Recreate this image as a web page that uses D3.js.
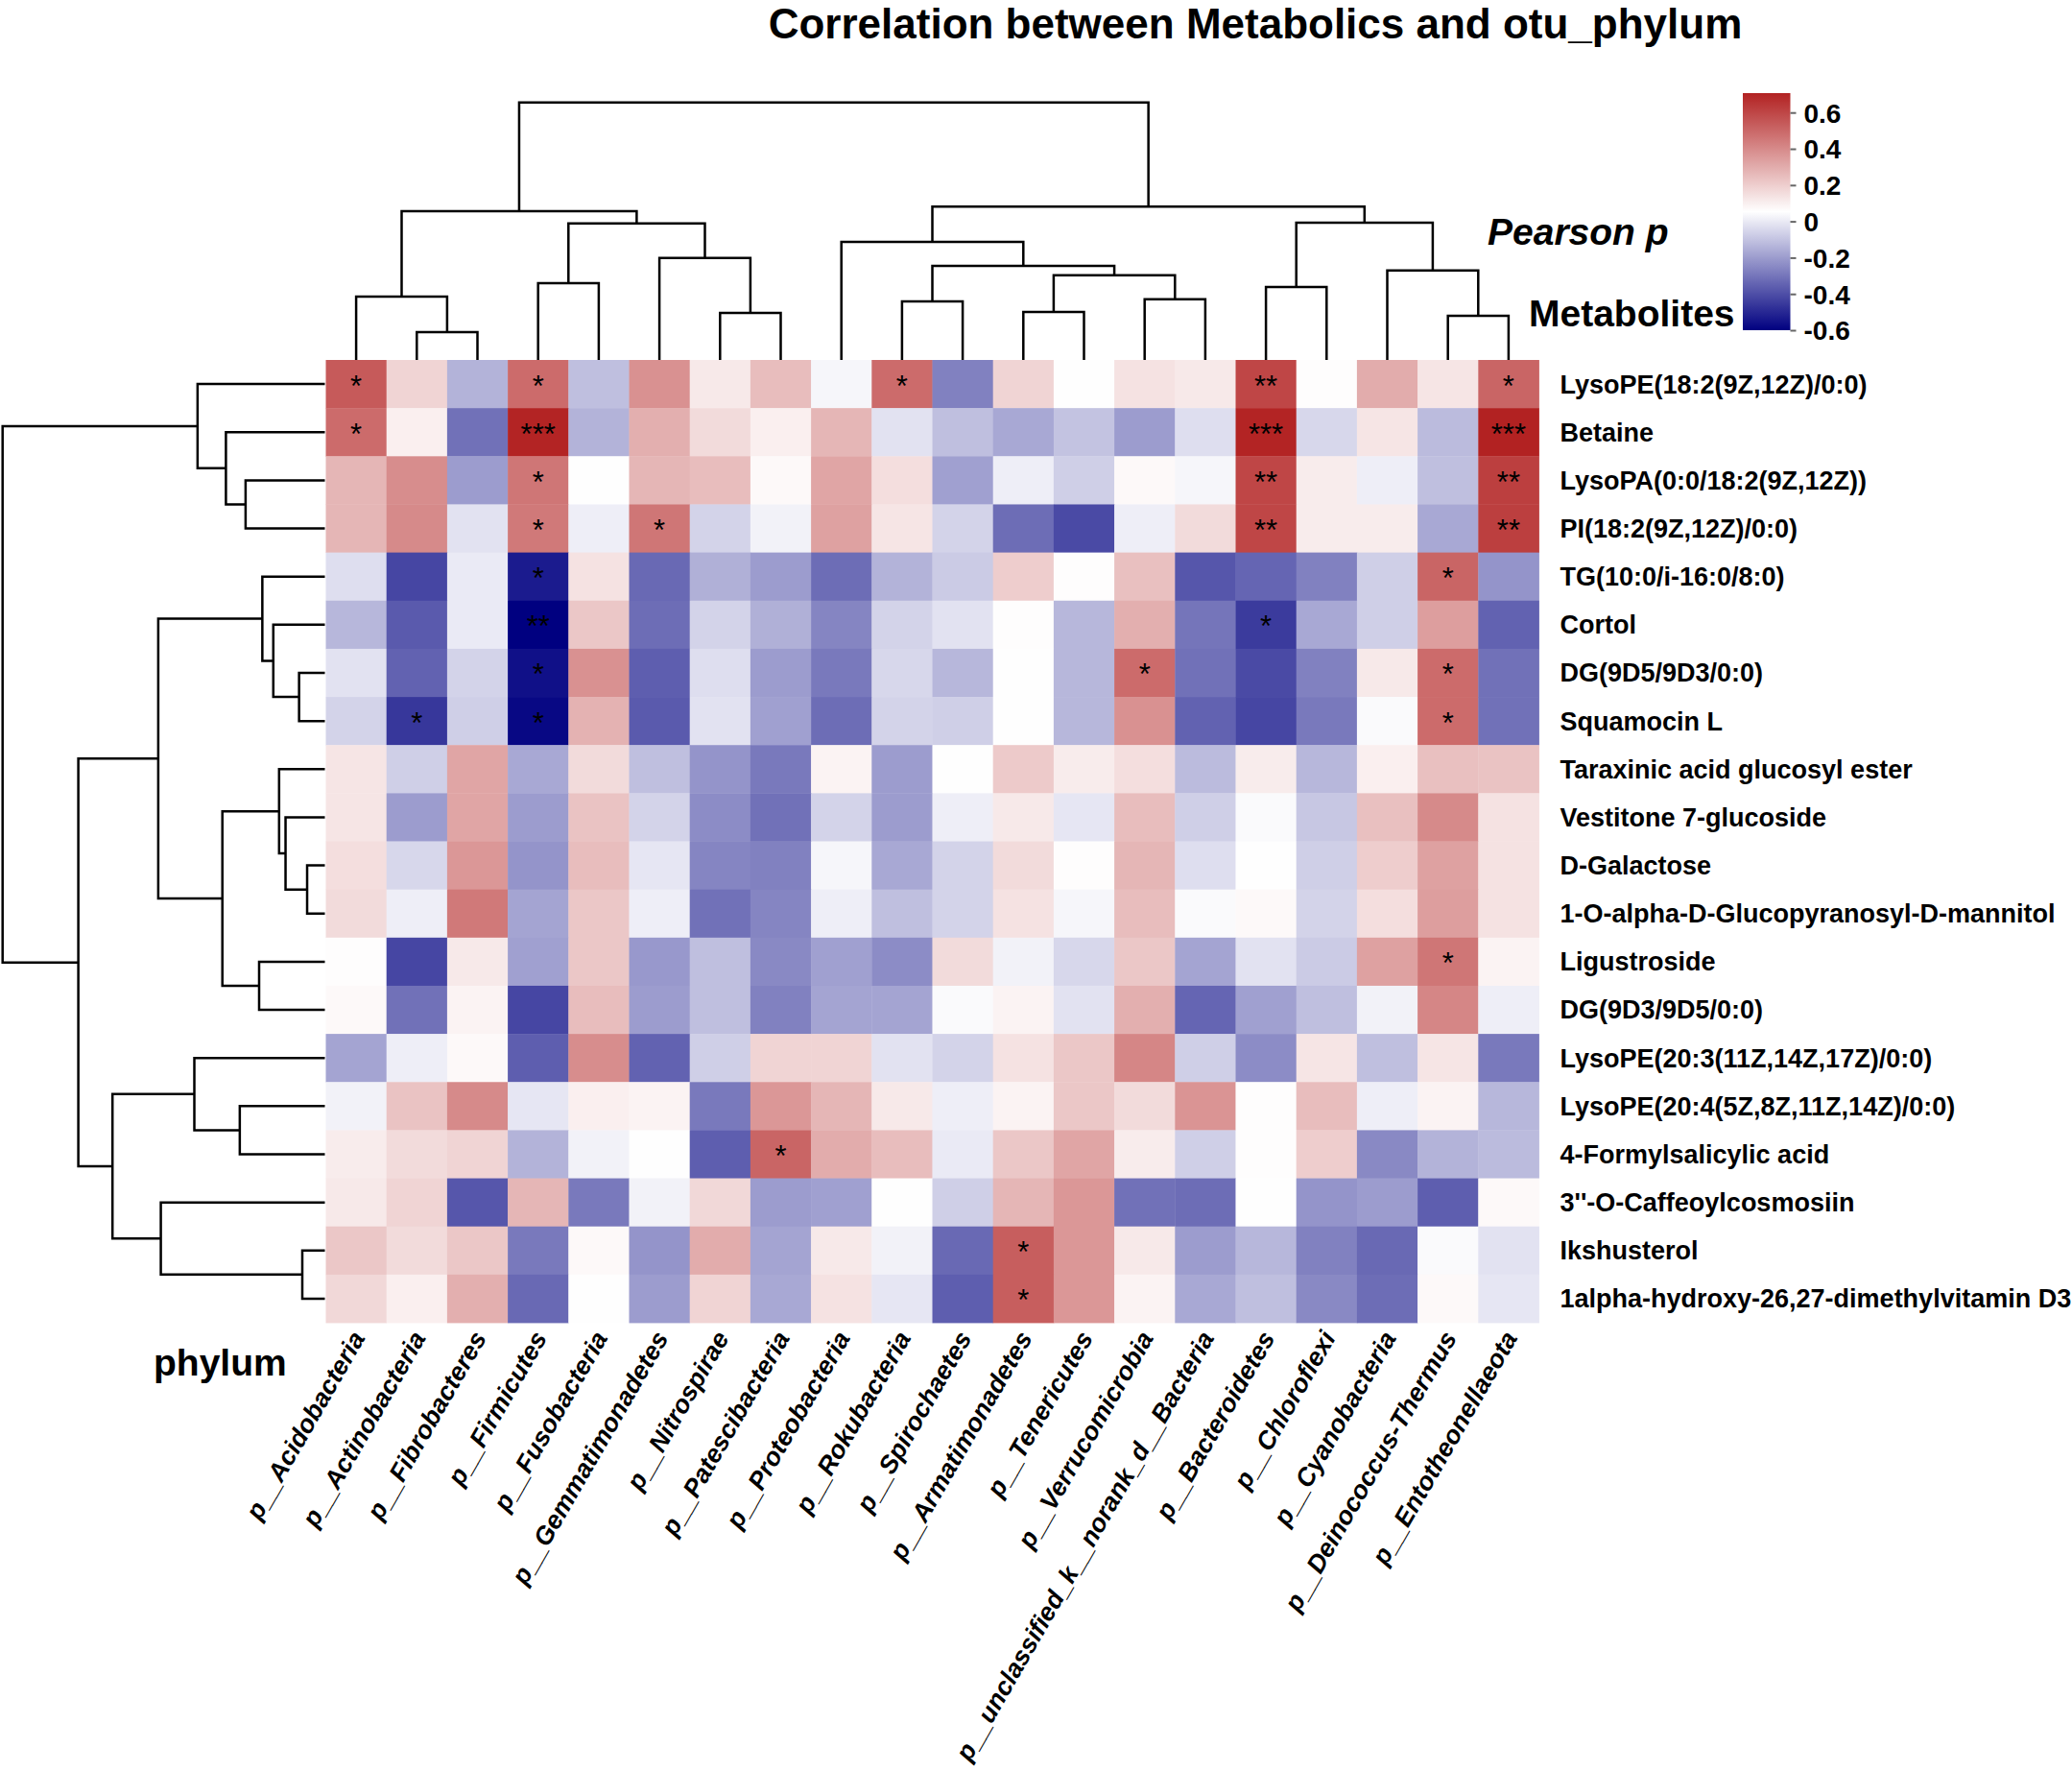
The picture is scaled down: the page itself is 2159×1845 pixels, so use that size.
<!DOCTYPE html>
<html>
<head>
<meta charset="utf-8">
<script src="https://cdn.jsdelivr.net/npm/d3@7"></script>
<style>
  html, body { margin: 0; padding: 0; background: #ffffff; }
  svg { display: block; font-family: "Liberation Sans", Arial, sans-serif; }
</style>
</head>
<body>
<svg id="chart" width="2159" height="1845"></svg>
<script>
// ---------------- DATA ----------------
const colLabels = ["p__Acidobacteria","p__Actinobacteria","p__Fibrobacteres","p__Firmicutes","p__Fusobacteria",
  "p__Gemmatimonadetes","p__Nitrospirae","p__Patescibacteria","p__Proteobacteria","p__Rokubacteria",
  "p__Spirochaetes","p__Armatimonadetes","p__Tenericutes","p__Verrucomicrobia","p__unclassified_k__norank_d__Bacteria",
  "p__Bacteroidetes","p__Chloroflexi","p__Cyanobacteria","p__Deinococcus-Thermus","p__Entotheonellaeota"];

const rowLabels = ["LysoPE(18:2(9Z,12Z)/0:0)","Betaine","LysoPA(0:0/18:2(9Z,12Z))","PI(18:2(9Z,12Z)/0:0)",
  "TG(10:0/i-16:0/8:0)","Cortol","DG(9D5/9D3/0:0)","Squamocin L","Taraxinic acid glucosyl ester",
  "Vestitone 7-glucoside","D-Galactose","1-O-alpha-D-Glucopyranosyl-D-mannitol","Ligustroside",
  "DG(9D3/9D5/0:0)","LysoPE(20:3(11Z,14Z,17Z)/0:0)","LysoPE(20:4(5Z,8Z,11Z,14Z)/0:0)",
  "4-Formylsalicylic acid","3''-O-Caffeoylcosmosiin","Ikshusterol","1alpha-hydroxy-26,27-dimethylvitamin D3"];

// Pearson r, rows x columns (display order)
const corrValues = [
  [0.54, 0.18,-0.14, 0.49,-0.11, 0.38, 0.12, 0.25, 0.03, 0.49,-0.27, 0.18, 0.05, 0.14, 0.12, 0.60, 0.06, 0.30, 0.13, 0.51],
  [0.49, 0.10,-0.31, 0.70,-0.14, 0.29, 0.16, 0.10, 0.27,-0.02,-0.11,-0.17,-0.10,-0.20,-0.03, 0.70,-0.05, 0.13,-0.12, 0.71],
  [0.27, 0.39,-0.20, 0.46, 0.05, 0.27, 0.25, 0.07, 0.32, 0.15,-0.19, 0.01,-0.07, 0.07, 0.03, 0.60, 0.11, 0.01,-0.11, 0.62],
  [0.27, 0.40,-0.02, 0.45, 0.01, 0.46,-0.06, 0.02, 0.33, 0.13,-0.06,-0.32,-0.41, 0.01, 0.16, 0.60, 0.11, 0.11,-0.17, 0.62],
  [-0.03,-0.42, 0.00,-0.53, 0.14,-0.33,-0.15,-0.20,-0.32,-0.14,-0.08, 0.20, 0.06, 0.24,-0.38,-0.34,-0.27,-0.07, 0.51,-0.22],
  [-0.13,-0.37, 0.00,-0.60, 0.22,-0.32,-0.06,-0.15,-0.26,-0.06,-0.02, 0.06,-0.13, 0.29,-0.30,-0.45,-0.17,-0.07, 0.34,-0.35],
  [-0.02,-0.35,-0.06,-0.56, 0.38,-0.36,-0.03,-0.20,-0.29,-0.05,-0.13, 0.05,-0.13, 0.49,-0.31,-0.41,-0.27, 0.12, 0.49,-0.31],
  [-0.06,-0.46,-0.07,-0.58, 0.28,-0.37,-0.02,-0.19,-0.32,-0.06,-0.07, 0.05,-0.13, 0.38,-0.35,-0.42,-0.29, 0.04, 0.49,-0.31],
  [0.13,-0.07, 0.32,-0.17, 0.16,-0.11,-0.22,-0.29, 0.09,-0.20, 0.05, 0.21, 0.11, 0.15,-0.12, 0.11,-0.13, 0.10, 0.24, 0.23],
  [0.13,-0.20, 0.32,-0.20, 0.23,-0.06,-0.24,-0.31,-0.06,-0.20, 0.01, 0.12,-0.01, 0.25,-0.07, 0.04,-0.09, 0.24, 0.40, 0.14],
  [0.15,-0.05, 0.36,-0.22, 0.25,-0.01,-0.26,-0.27, 0.03,-0.17,-0.06, 0.16, 0.06, 0.27,-0.03, 0.05,-0.07, 0.20, 0.33, 0.14],
  [0.16, 0.01, 0.45,-0.18, 0.22, 0.01,-0.31,-0.26, 0.01,-0.11,-0.06, 0.14, 0.03, 0.25, 0.04, 0.07,-0.06, 0.15, 0.34, 0.14],
  [0.06,-0.42, 0.12,-0.19, 0.22,-0.21,-0.11,-0.25,-0.19,-0.24, 0.16, 0.02,-0.05, 0.22,-0.18,-0.02,-0.08, 0.33, 0.46, 0.09],
  [0.07,-0.31, 0.09,-0.42, 0.25,-0.20,-0.11,-0.27,-0.18,-0.18, 0.04, 0.09,-0.02, 0.29,-0.34,-0.19,-0.11, 0.02, 0.41, 0.01],
  [-0.18, 0.01, 0.07,-0.36, 0.39,-0.35,-0.07, 0.18, 0.18,-0.02,-0.06, 0.14, 0.22, 0.41,-0.07,-0.24, 0.13,-0.11, 0.13,-0.29],
  [0.02, 0.23, 0.40,-0.01, 0.10, 0.09,-0.29, 0.36, 0.27, 0.12, 0.01, 0.09, 0.22, 0.16, 0.37, 0.06, 0.25, 0.01, 0.09,-0.13],
  [0.11, 0.16, 0.18,-0.14, 0.02, 0.05,-0.36, 0.51, 0.30, 0.25, 0.00, 0.22, 0.32, 0.11,-0.07, 0.06, 0.20,-0.25,-0.14,-0.12],
  [0.12, 0.18,-0.38, 0.27,-0.29, 0.02, 0.17,-0.20,-0.19, 0.05,-0.07, 0.27, 0.36,-0.31,-0.32, 0.05,-0.22,-0.20,-0.36, 0.07],
  [0.22, 0.16, 0.22,-0.29, 0.07,-0.22, 0.30,-0.18, 0.12, 0.02,-0.33, 0.53, 0.36, 0.12,-0.20,-0.13,-0.27,-0.33, 0.04,-0.02],
  [0.17, 0.10, 0.29,-0.33, 0.05,-0.20, 0.18,-0.17, 0.14,-0.01,-0.36, 0.53, 0.36, 0.09,-0.17,-0.11,-0.25,-0.32, 0.07,-0.01]
];

// significance marks: [row, col, mark]
const sigMarks = [
  [0,0,"*"],[0,3,"*"],[0,9,"*"],[0,15,"**"],[0,19,"*"],
  [1,0,"*"],[1,3,"***"],[1,15,"***"],[1,19,"***"],
  [2,3,"*"],[2,15,"**"],[2,19,"**"],
  [3,3,"*"],[3,5,"*"],[3,15,"**"],[3,19,"**"],
  [4,3,"*"],[4,18,"*"],
  [5,3,"**"],[5,15,"*"],
  [6,3,"*"],[6,13,"*"],[6,18,"*"],
  [7,1,"*"],[7,3,"*"],[7,18,"*"],
  [12,18,"*"],[16,7,"*"],[18,11,"*"],[19,11,"*"]
];

// hclust-style merges: negative = leaf (1-based), positive = earlier merge (1-based); relative height
const colMerges = [
  [-2,-3,0.108],[-1,1,0.246],[-4,-5,0.298],[-7,-8,0.183],[-6,4,0.396],[3,5,0.530],[2,6,0.578],
  [-10,-11,0.227],[-12,-13,0.186],[-14,-15,0.236],[9,10,0.329],[8,11,0.365],[-9,12,0.458],
  [-16,-17,0.283],[-19,-20,0.171],[-18,15,0.348],[14,16,0.533],[13,17,0.595],[7,18,1.0]
];
const rowMerges = [
  [-3,-4,0.246],[-2,1,0.307],[-1,2,0.395],[-7,-8,0.080],[-6,4,0.160],[-5,5,0.194],
  [-11,-12,0.055],[-10,7,0.122],[-9,8,0.142],[-13,-14,0.204],[9,10,0.318],[6,11,0.517],
  [-16,-17,0.264],[-15,13,0.405],[-19,-20,0.070],[-18,15,0.509],[14,16,0.659],[12,17,0.765],[3,18,1.0]
];

const legendTicks = [-0.6,-0.4,-0.2,0,0.2,0.4,0.6];
const colorDomain = [-0.6, 0.0535, 0.707];
const colorRange = ["#000080", "#ffffff", "#b22222"];

// ---------------- DRAW ----------------
const svg = d3.select("#chart");
const hm = {x0: 339.5, x1: 1603.5, y0: 375, y1: 1378};

const xCol = d3.scaleBand().domain(colLabels).range([hm.x0, hm.x1]);
const yRow = d3.scaleBand().domain(rowLabels).range([hm.y0, hm.y1]);
const color = d3.scaleLinear().domain(colorDomain).range(colorRange).clamp(true);

// title
svg.append("text").attr("x", 1308).attr("y", 40).attr("text-anchor", "middle")
  .style("font-size", "44px").style("font-weight", "bold")
  .text("Correlation between Metabolics and otu_phylum");

// cells
const cells = [];
corrValues.forEach((row, i) => row.forEach((v, j) => cells.push({r: rowLabels[i], c: colLabels[j], v})));
svg.append("g").selectAll("rect").data(cells).join("rect")
  .attr("x", d => xCol(d.c)).attr("y", d => yRow(d.r))
  .attr("width", xCol.bandwidth() + 0.4).attr("height", yRow.bandwidth() + 0.4)
  .attr("fill", d => color(d.v));

// significance marks
svg.append("g").selectAll("text").data(sigMarks).join("text")
  .attr("x", d => xCol(colLabels[d[1]]) + xCol.bandwidth() / 2)
  .attr("y", d => yRow(rowLabels[d[0]]) + yRow.bandwidth() / 2 + 2)
  .attr("text-anchor", "middle").attr("dominant-baseline", "central")
  .style("font-size", "31px").style("fill", "#000")
  .text(d => d[2]);

// dendrograms
function dendro(merges, leafPos, hScale, vertical) {
  const nodes = [];
  const get = k => k < 0 ? {p: leafPos(-k - 1), h: 0} : nodes[k - 1];
  const paths = [];
  merges.forEach(([a, b, h]) => {
    const A = get(a), B = get(b);
    nodes.push({p: (A.p + B.p) / 2, h});
    const p = d3.path();
    if (vertical) {
      p.moveTo(A.p, hScale(A.h)); p.lineTo(A.p, hScale(h)); p.lineTo(B.p, hScale(h)); p.lineTo(B.p, hScale(B.h));
    } else {
      p.moveTo(hScale(A.h), A.p); p.lineTo(hScale(h), A.p); p.lineTo(hScale(h), B.p); p.lineTo(hScale(B.h), B.p);
    }
    paths.push(p.toString());
  });
  return paths;
}
const topH = d3.scaleLinear().domain([0, 1]).range([hm.y0, 106.7]);
const leftH = d3.scaleLinear().domain([0, 1]).range([hm.x0 - 1, 2.7]);
const colPaths = dendro(colMerges, i => xCol(colLabels[i]) + xCol.bandwidth() / 2, topH, true);
const rowPaths = dendro(rowMerges, i => yRow(rowLabels[i]) + yRow.bandwidth() / 2, leftH, false);
svg.append("g").selectAll("path").data(colPaths.concat(rowPaths)).join("path")
  .attr("d", d => d).attr("fill", "none").attr("stroke", "#000").attr("stroke-width", 2.5);

// row labels
const rowAxis = svg.append("g").attr("transform", `translate(${hm.x1},0)`)
  .call(d3.axisRight(yRow).tickSize(0).tickPadding(22));
rowAxis.select(".domain").remove();
rowAxis.selectAll("text").attr("dy", "0.35em").attr("fill", "#000")
  .style("font-size", "27px").style("font-weight", "bold")
  .style("font-family", '"Liberation Sans", Arial, sans-serif');

// column labels
const colAxis = svg.append("g").attr("transform", `translate(0,${hm.y1})`)
  .call(d3.axisBottom(xCol).tickSize(0));
colAxis.select(".domain").remove();
colAxis.selectAll("text").attr("y", 0).attr("x", 0).attr("dy", "0.35em")
  .attr("transform", "translate(2,11) rotate(-60)")
  .attr("text-anchor", "end").attr("fill", "#000")
  .style("font-size", "26.5px").style("font-weight", "bold").style("font-style", "italic")
  .style("font-family", '"Liberation Sans", Arial, sans-serif');

// side titles
svg.append("text").attr("x", 160).attr("y", 1433)
  .style("font-size", "39px").style("font-weight", "bold").text("phylum");
svg.append("text").attr("x", 1593).attr("y", 340)
  .style("font-size", "39px").style("font-weight", "bold").text("Metabolites");
svg.append("text").attr("x", 1550).attr("y", 255)
  .style("font-size", "39px").style("font-weight", "bold").style("font-style", "italic").text("Pearson p");

// legend
const lg = {x: 1816, w: 49.5, yTop: 97, yBot: 344};
const legScale = d3.scaleLinear().domain([colorDomain[0], colorDomain[2]]).range([lg.yBot, lg.yTop]);
const defs = svg.append("defs");
const grad = defs.append("linearGradient").attr("id", "lgGrad")
  .attr("x1", 0).attr("y1", 1).attr("x2", 0).attr("y2", 0);
d3.range(0, 1.0001, 0.05).forEach(t => {
  const v = colorDomain[0] + t * (colorDomain[2] - colorDomain[0]);
  grad.append("stop").attr("offset", t).attr("stop-color", color(v));
});
svg.append("rect").attr("x", lg.x).attr("y", lg.yTop).attr("width", lg.w).attr("height", lg.yBot - lg.yTop)
  .attr("fill", "url(#lgGrad)");
const legAxis = svg.append("g").attr("transform", `translate(${lg.x + lg.w},0)`)
  .call(d3.axisRight(legScale).tickValues(legendTicks).tickSize(6).tickPadding(8).tickFormat(d => String(d)));
legAxis.select(".domain").remove();
legAxis.selectAll("line").attr("stroke", "#666").attr("stroke-width", 2);
legAxis.selectAll("text").attr("fill", "#000").attr("dy", "0.35em")
  .style("font-size", "28px").style("font-weight", "bold")
  .style("font-family", '"Liberation Sans", Arial, sans-serif');
</script>
</body>
</html>
